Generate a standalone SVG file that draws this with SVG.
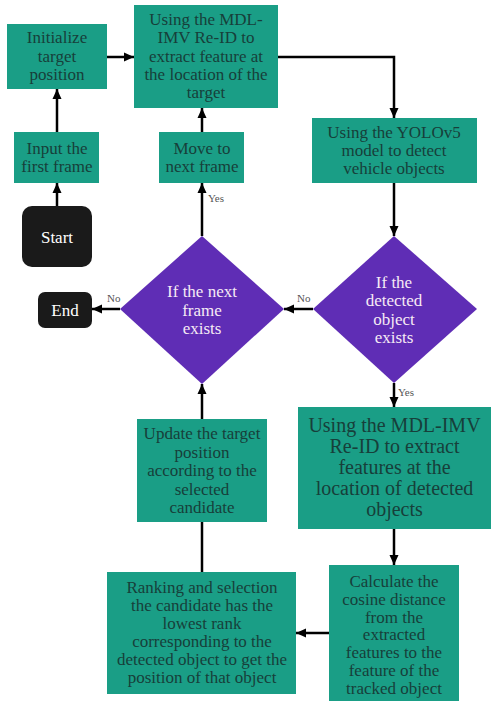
<svg xmlns="http://www.w3.org/2000/svg" width="492" height="704" viewBox="0 0 492 704" font-family="'Liberation Serif', 'Times New Roman', 'DejaVu Serif', serif">
<defs>
<marker id="ah" markerUnits="userSpaceOnUse" markerWidth="10" markerHeight="10" viewBox="0 0 10 10" refX="10" refY="5" orient="auto">
<path d="M0,0.5 L10,5 L0,9.5 Z" fill="#000"/>
</marker>
<style>
.box{fill:#1a9e86;}
.dia{fill:#5f2db5;}
.term{fill:#1a1a1a;}
text{font-family:'Liberation Serif','Times New Roman','DejaVu Serif',serif;}
.bt{font-size:17px;fill:#173f3a;text-anchor:middle;}
.big{font-size:20px;}
.dt{font-size:17px;fill:#f6eaf4;text-anchor:middle;}
.tt{font-size:17px;fill:#ffffff;text-anchor:middle;}
.lbl{font-size:11px;fill:#555;}
.cn{fill:none;stroke:#000;stroke-width:2.5;marker-end:url(#ah);}
.cl{fill:none;stroke:#000;stroke-width:2.5;}
</style>
</defs>
<rect width="492" height="704" fill="#fff"/>

<g id="start">
<rect class="term" x="22" y="206" width="70" height="61" rx="10"/>
<text class="tt" x="57" y="243">Start</text>
</g>
<g id="input">
<rect class="box" x="14" y="132" width="85" height="51"/>
<text class="bt" x="57" y="154"><tspan x="57">Input the</tspan><tspan x="57" dy="18">first frame</tspan></text>
</g>
<g id="init">
<rect class="box" x="7" y="24" width="100" height="65"/>
<text class="bt" x="57" y="43"><tspan x="57">Initialize</tspan><tspan x="57" dy="18.5">target</tspan><tspan x="57" dy="18.5">position</tspan></text>
</g>
<g id="mdl1">
<rect class="box" x="134" y="5" width="144" height="103"/>
<text class="bt" x="206" y="25"><tspan x="206">Using the MDL-</tspan><tspan x="206" dy="18.3">IMV Re-ID to</tspan><tspan x="206" dy="18.3">extract feature at</tspan><tspan x="206" dy="18.3">the location of the</tspan><tspan x="206" dy="18.3">target</tspan></text>
</g>
<g id="move">
<rect class="box" x="159" y="132" width="85" height="51"/>
<text class="bt" x="202" y="154"><tspan x="202">Move to</tspan><tspan x="202" dy="18">next frame</tspan></text>
</g>
<g id="yolo">
<rect class="box" x="312" y="118" width="165" height="65"/>
<text class="bt" x="394" y="138"><tspan x="394">Using the YOLOv5</tspan><tspan x="394" dy="18">model to detect</tspan><tspan x="394" dy="18">vehicle objects</tspan></text>
</g>
<g id="d2">
<polygon class="dia" points="394,236 477,309 394,383 313,309"/>
<text class="dt" x="394" y="288"><tspan x="394">If the</tspan><tspan x="394" dy="18.3">detected</tspan><tspan x="394" dy="18.3">object</tspan><tspan x="394" dy="18.3">exists</tspan></text>
</g>
<g id="d1">
<polygon class="dia" points="202,236 284,309 202,384 120,309"/>
<text class="dt" x="202" y="297"><tspan x="202">If the next</tspan><tspan x="202" dy="18.5">frame</tspan><tspan x="202" dy="18.5">exists</tspan></text>
</g>
<g id="end">
<rect class="term" x="38" y="292" width="54" height="36" rx="7"/>
<text class="tt" x="65" y="316">End</text>
</g>
<g id="mdl2">
<rect class="box" x="298" y="407" width="193" height="122"/>
<text class="bt big" x="394.5" y="432"><tspan x="394.5">Using the MDL-IMV</tspan><tspan x="394.5" dy="21">Re-ID to extract</tspan><tspan x="394.5" dy="21">features at the</tspan><tspan x="394.5" dy="21">location of detected</tspan><tspan x="394.5" dy="21">objects</tspan></text>
</g>
<g id="update">
<rect class="box" x="137" y="419" width="130" height="103"/>
<text class="bt" x="202" y="439"><tspan x="202">Update the target</tspan><tspan x="202" dy="18.5">position</tspan><tspan x="202" dy="18.5">according to the</tspan><tspan x="202" dy="18.5">selected</tspan><tspan x="202" dy="18.5">candidate</tspan></text>
</g>
<g id="calc">
<rect class="box" x="329" y="565" width="130" height="136"/>
<text class="bt" x="394" y="587"><tspan x="394">Calculate the</tspan><tspan x="394" dy="17.8">cosine distance</tspan><tspan x="394" dy="17.8">from the</tspan><tspan x="394" dy="17.8">extracted</tspan><tspan x="394" dy="17.8">features to the</tspan><tspan x="394" dy="17.8">feature of the</tspan><tspan x="394" dy="17.8">tracked object</tspan></text>
</g>
<g id="rank">
<rect class="box" x="107" y="572" width="189" height="122"/>
<text class="bt" x="202" y="593"><tspan x="202">Ranking and selection</tspan><tspan x="202" dy="18">the candidate has the</tspan><tspan x="202" dy="18">lowest rank</tspan><tspan x="202" dy="18">corresponding to the</tspan><tspan x="202" dy="18">detected object to get the</tspan><tspan x="202" dy="18">position of that object</tspan></text>
</g>

<g id="connectors">
<path class="cn" d="M57,206 V183"/>
<path class="cn" d="M57,132 V89"/>
<path class="cn" d="M107,57 H134"/>
<path class="cn" d="M278,57 H394 V118"/>
<path class="cn" d="M394,183 V236"/>
<path class="cn" d="M313,309 H284"/>
<path class="cn" d="M120,309 H92"/>
<path class="cn" d="M202,236 V183"/>
<path class="cn" d="M202,132 V108"/>
<path class="cn" d="M394,383 V407"/>
<path class="cn" d="M394,529 V565"/>
<path class="cn" d="M329,633 H296"/>
<path class="cl" d="M202,572 V522"/>
<path class="cn" d="M202,419 V384"/>
<text class="lbl" x="208" y="202">Yes</text>
<text class="lbl" x="107" y="302">No</text>
<text class="lbl" x="297" y="302">No</text>
<text class="lbl" x="398" y="396">Yes</text>
</g>
</svg>
